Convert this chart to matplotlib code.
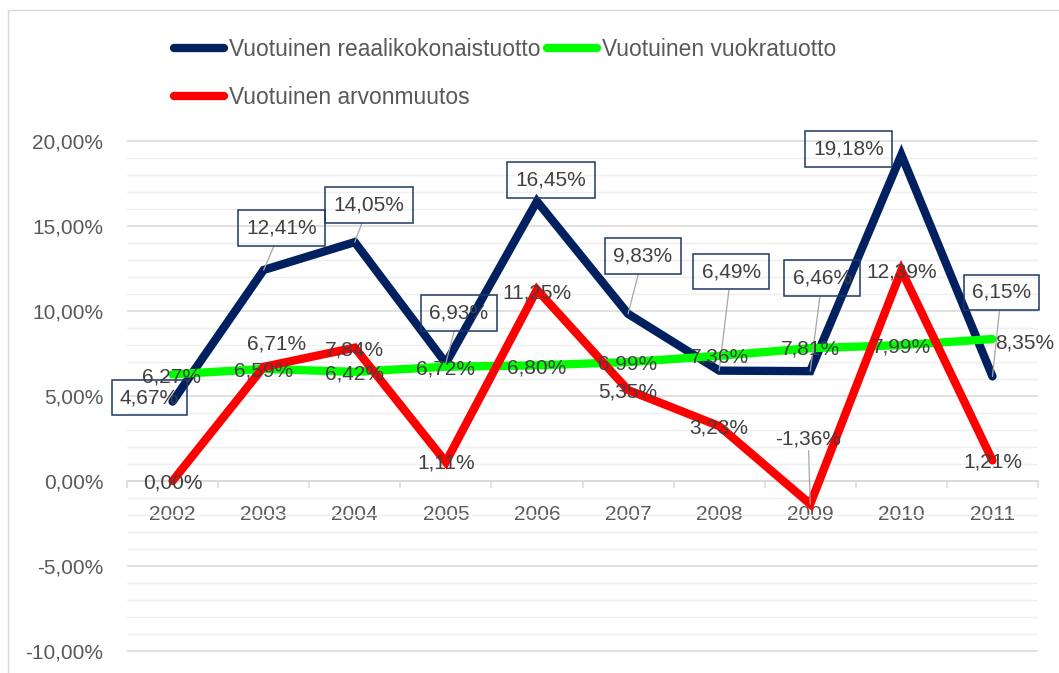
import matplotlib
matplotlib.use("Agg")
import matplotlib.pyplot as plt
from matplotlib.patches import Rectangle
from matplotlib.ticker import FuncFormatter, FixedLocator

plt.rcParams['font.family'] = ['Liberation Sans', 'DejaVu Sans']

years = ['2002', '2003', '2004', '2005', '2006', '2007', '2008', '2009', '2010', '2011']
total = [4.67, 12.41, 14.05, 6.93, 16.45, 9.83, 6.49, 6.46, 19.18, 6.15]
rent = [6.27, 6.59, 6.42, 6.72, 6.80, 6.99, 7.36, 7.81, 7.99, 8.35]
value = [0.00, 6.71, 7.84, 1.11, 11.25, 5.35, 3.23, -1.36, 12.39, 1.21]

names = ['Vuotuinen reaalikokonaistuotto', 'Vuotuinen vuokratuotto', 'Vuotuinen arvonmuutos']
colors = ['#002060', '#00FF00', '#FF0000']

# label offsets in pixels (dx, dy up) from the data point
total_off = [(-23, 4), (18, 42), (14, 37), (13, 50), (14, 21), (15, 58), (12, 99), (12, 93), (-53, 6), (9, 84)]
total_leader = [False, True, True, True, False, True, True, True, False, True]
rent_off = [(-1, -3), (0, -2), (0, -2), (0, -2), (0, -3), (0, -2), (0, -1), (0, -1), (0, -2), (32, -4)]
value_off = [(0, -2), (13, 23), (0, -2), (0, -1), (0, -3), (0, -2), (0, -2), (-2, 65), (0, -2), (0, -2)]
value_leader = [False, False, False, False, False, False, False, True, False, False]

txt_col = '#404040'
fs = 15

fig = plt.figure(figsize=(10.59, 6.73), dpi=100)
ax = fig.add_axes([127 / 1059, 0.0302, 911 / 1059, 0.7629])

x = list(range(len(years)))
l1, = ax.plot(x, total, color=colors[0], lw=6, solid_capstyle='round', solid_joinstyle='miter', zorder=3)
l2, = ax.plot(x, rent, color=colors[1], lw=6, solid_capstyle='round', solid_joinstyle='miter', zorder=4)
l3, = ax.plot(x, value, color=colors[2], lw=6, solid_capstyle='round', solid_joinstyle='miter', zorder=5)


def fmt(v):
    return f"{v:.2f}%".replace('.', ',')


for i, v in enumerate(total):
    dx, dy = total_off[i]
    ap = dict(arrowstyle='-', color='#A6A6A6', lw=0.9, shrinkA=0, shrinkB=0) if total_leader[i] else None
    ax.annotate(fmt(v), xy=(i, v), xytext=(dx, dy), textcoords='offset pixels',
                ha='center', va='center', fontsize=fs, color=txt_col, zorder=7,
                bbox=dict(boxstyle='square,pad=0.4', fc='none', ec='#1F3864', lw=1.1),
                arrowprops=ap, annotation_clip=False)

for i, v in enumerate(rent):
    dx, dy = rent_off[i]
    ax.annotate(fmt(v), xy=(i, v), xytext=(dx, dy), textcoords='offset pixels',
                ha='center', va='center', fontsize=fs, color=txt_col, zorder=7,
                annotation_clip=False)

for i, v in enumerate(value):
    dx, dy = value_off[i]
    ap = dict(arrowstyle='-', color='#A6A6A6', lw=0.9, shrinkA=0, shrinkB=0) if value_leader[i] else None
    ax.annotate(fmt(v), xy=(i, v), xytext=(dx, dy), textcoords='offset pixels',
                ha='center', va='center', fontsize=fs, color=txt_col, zorder=7,
                bbox=dict(boxstyle='square,pad=0.1', fc='none', ec='none'),
                arrowprops=ap, annotation_clip=False)

ax.set_xlim(-0.5, len(years) - 0.5)
ax.set_ylim(-10.1, 20.1)

ax.yaxis.set_major_locator(FixedLocator([-10, -5, 0, 5, 10, 15, 20]))
ax.yaxis.set_minor_locator(FixedLocator([v for v in range(-10, 21) if v % 5 != 0]))
ax.yaxis.set_major_formatter(FuncFormatter(lambda v, p: fmt(v)))
ax.grid(axis='y', which='major', color='#D9D9D9', lw=1.1)
ax.grid(axis='y', which='minor', color='#EFEFEF', lw=1.0)
ax.set_axisbelow(True)

ax.set_xticks(x)
ax.set_xticklabels(years)
ax.xaxis.set_minor_locator(FixedLocator([k - 0.5 for k in range(len(years) + 1)]))
ax.tick_params(axis='x', which='major', length=0, pad=17, labelsize=fs, labelcolor='#595959')
ax.tick_params(axis='x', which='minor', length=5, width=1.1, color='#D9D9D9', direction='out')
ax.tick_params(axis='y', which='both', length=0, pad=17, labelsize=fs, labelcolor='#595959')

for s in ['top', 'right', 'left']:
    ax.spines[s].set_visible(False)
ax.spines['bottom'].set_position(('data', 0))
ax.spines['bottom'].set_color('#D9D9D9')
ax.spines['bottom'].set_linewidth(1.1)

fig.legend([l1, l3, l2], [names[0], names[2], names[1]], ncol=2, loc='upper left',
           bbox_to_anchor=(174 / 1059, 1 - 38 / 673), frameon=False, fontsize=16.4,
           borderpad=0, borderaxespad=0, handlelength=2.2, handletextpad=0.2,
           columnspacing=0.3, labelspacing=1.1, labelcolor='#595959')

fig.add_artist(Rectangle((8 / 1059, -0.05), 1.2, 1.05 - 10.5 / 673, transform=fig.transFigure,
                         fill=False, ec='#D9D9D9', lw=1.0))

fig.savefig('out.png', dpi=100)
